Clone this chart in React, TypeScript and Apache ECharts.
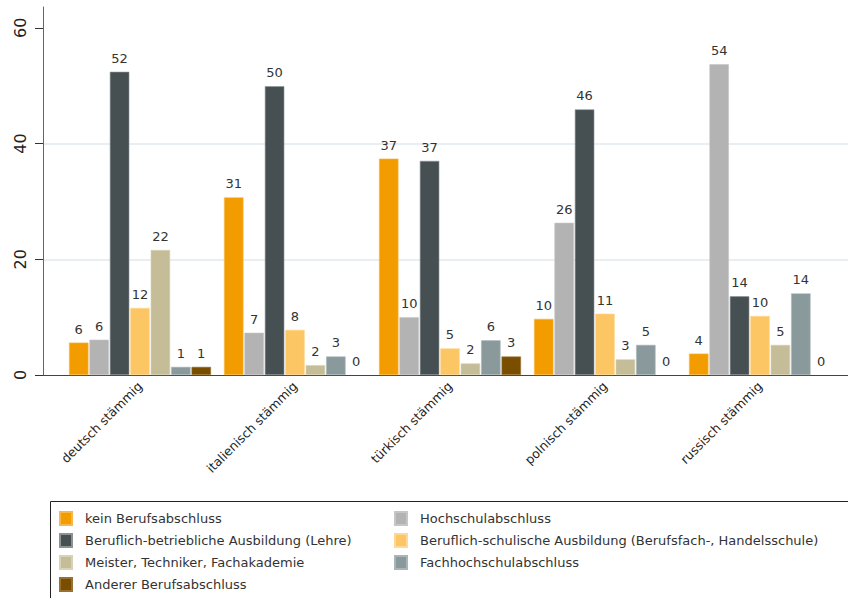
import React, { useEffect, useRef } from "react";
import * as echarts from "echarts";

const categories = ["deutsch stämmig", "italienisch stämmig", "türkisch stämmig", "polnisch stämmig", "russisch stämmig"];
const seriesNames = [
  "kein Berufsabschluss",
  "Hochschulabschluss",
  "Beruflich-betriebliche Ausbildung (Lehre)",
  "Beruflich-schulische Ausbildung (Berufsfach-, Handelsschule)",
  "Meister, Techniker, Fachakademie",
  "Fachhochschulabschluss",
  "Anderer Berufsabschluss",
];
const keinBerufsabschluss = [5.6, 30.7, 37.4, 9.7, 3.7];
const hochschulabschluss = [6.1, 7.3, 10.0, 26.3, 53.7];
const betrieblich = [52.4, 49.9, 37.0, 45.9, 13.6];
const schulisch = [11.6, 7.8, 4.6, 10.6, 10.2];
const meister = [21.6, 1.7, 2.0, 2.7, 5.2];
const fachhochschul = [1.4, 3.2, 6.0, 5.2, 14.1];
const anderer = [1.4, 0, 3.2, 0, 0];
const yTicks = [0, 20, 40, 60];

const seriesValues = [keinBerufsabschluss, hochschulabschluss, betrieblich, schulisch, meister, fachhochschul, anderer];
const colors = ["#f39c00", "#b3b3b3", "#465052", "#fdc664", "#c5bd98", "#8a9a9c", "#7a4e00"];
const borderColors = ["#f7b84a", "#c6c6c6", "#8a9294", "#fed894", "#d8d2b6", "#a9b5b6", "#9a7030"];

const FONT = "DejaVu Sans";

export default function App() {
  const ref = useRef<HTMLDivElement>(null);
  useEffect(() => {
    if (!ref.current) return;
    const chart = echarts.init(ref.current, undefined, { renderer: "svg" });
    const yMax = 63.6;
    const option: any = {
      animation: false,
      backgroundColor: "#ffffff",
      textStyle: { fontFamily: FONT },
      grid: [
        { left: 43, right: 0, top: 7, bottom: 223, containLabel: false },
        { left: 62.5, right: 10.5, top: 7, bottom: 223, containLabel: false },
      ],
      xAxis: [
        {
          type: "value",
          gridIndex: 0,
          min: 0,
          max: 1,
          axisLine: { show: true, lineStyle: { color: "#444", width: 1 } },
          axisTick: { show: false },
          axisLabel: { show: false },
          splitLine: { show: false },
        },
        {
          type: "category",
          gridIndex: 1,
          data: categories,
          axisLine: { show: false },
          axisTick: { show: false },
          axisLabel: {
            rotate: 45,
            margin: 9,
            fontSize: 12.5,
            color: "#222",
            fontFamily: FONT,
            interval: 0,
          },
          splitLine: { show: false },
        },
      ],
      yAxis: [
        {
          type: "value",
          gridIndex: 0,
          min: 0,
          max: yMax,
          interval: 20,
          axisLine: { show: true, lineStyle: { color: "#666", width: 1 } },
          axisTick: { show: true, length: 8, lineStyle: { color: "#333" }, customValues: yTicks },
          axisLabel: {
            rotate: 90,
            margin: 15,
            fontSize: 16,
            color: "#222",
            fontFamily: FONT,
            customValues: yTicks,
            formatter: (v: number) => (yTicks.includes(v) ? String(v) : ""),
          },
          splitLine: { show: true, showMaxLine: false, showMinLine: false, lineStyle: { color: "#e8eef2", width: 2 } },
        },
        {
          type: "value",
          gridIndex: 1,
          min: 0,
          max: yMax,
          show: false,
          splitLine: { show: false },
        },
      ],
      legend: [
        {
          orient: "vertical",
          left: 59,
          top: 511,
          padding: 0,
          itemWidth: 12,
          itemHeight: 13,
          itemGap: 7,
          icon: "rect",
          data: [seriesNames[0], seriesNames[2], seriesNames[4], seriesNames[6]],
          textStyle: { fontSize: 13, color: "#333", fontFamily: FONT, padding: [0, 0, 0, 8] },
          selectedMode: false,
        },
        {
          orient: "vertical",
          left: 394,
          top: 511,
          padding: 0,
          itemWidth: 12,
          itemHeight: 13,
          itemGap: 7,
          icon: "rect",
          data: [seriesNames[1], seriesNames[3], seriesNames[5]],
          textStyle: { fontSize: 13, color: "#333", fontFamily: FONT, padding: [0, 0, 0, 8] },
          selectedMode: false,
        },
      ],
      graphic: [
        {
          type: "rect",
          shape: { x: 50.5, y: 501.5, width: 900, height: 200 },
          style: { fill: "none", stroke: "#222", lineWidth: 1 },
          silent: true,
        },
      ],
      series: seriesNames.map((name, i) => ({
        type: "bar",
        name,
        xAxisIndex: 1,
        yAxisIndex: 1,
        data: seriesValues[i].map((v) => ({
          value: v,
          itemStyle: v === 0 ? { borderWidth: 0, borderColor: "transparent" } : undefined,
        })),
        barGap: "5%",
        barCategoryGap: "8.4%",
        itemStyle: { color: colors[i], borderColor: borderColors[i], borderWidth: 0.6 },
        label: {
          show: true,
          position: "top",
          distance: 7,
          fontSize: 13,
          color: "#333",
          fontFamily: FONT,
          formatter: (p: any) => String(Math.round(p.value)),
        },
      })),
    };
    chart.setOption(option);
    return () => chart.dispose();
  }, []);
  return <div ref={ref} style={{ width: 848, height: 598, position: "absolute", left: 0, top: 0 }} />;
}
